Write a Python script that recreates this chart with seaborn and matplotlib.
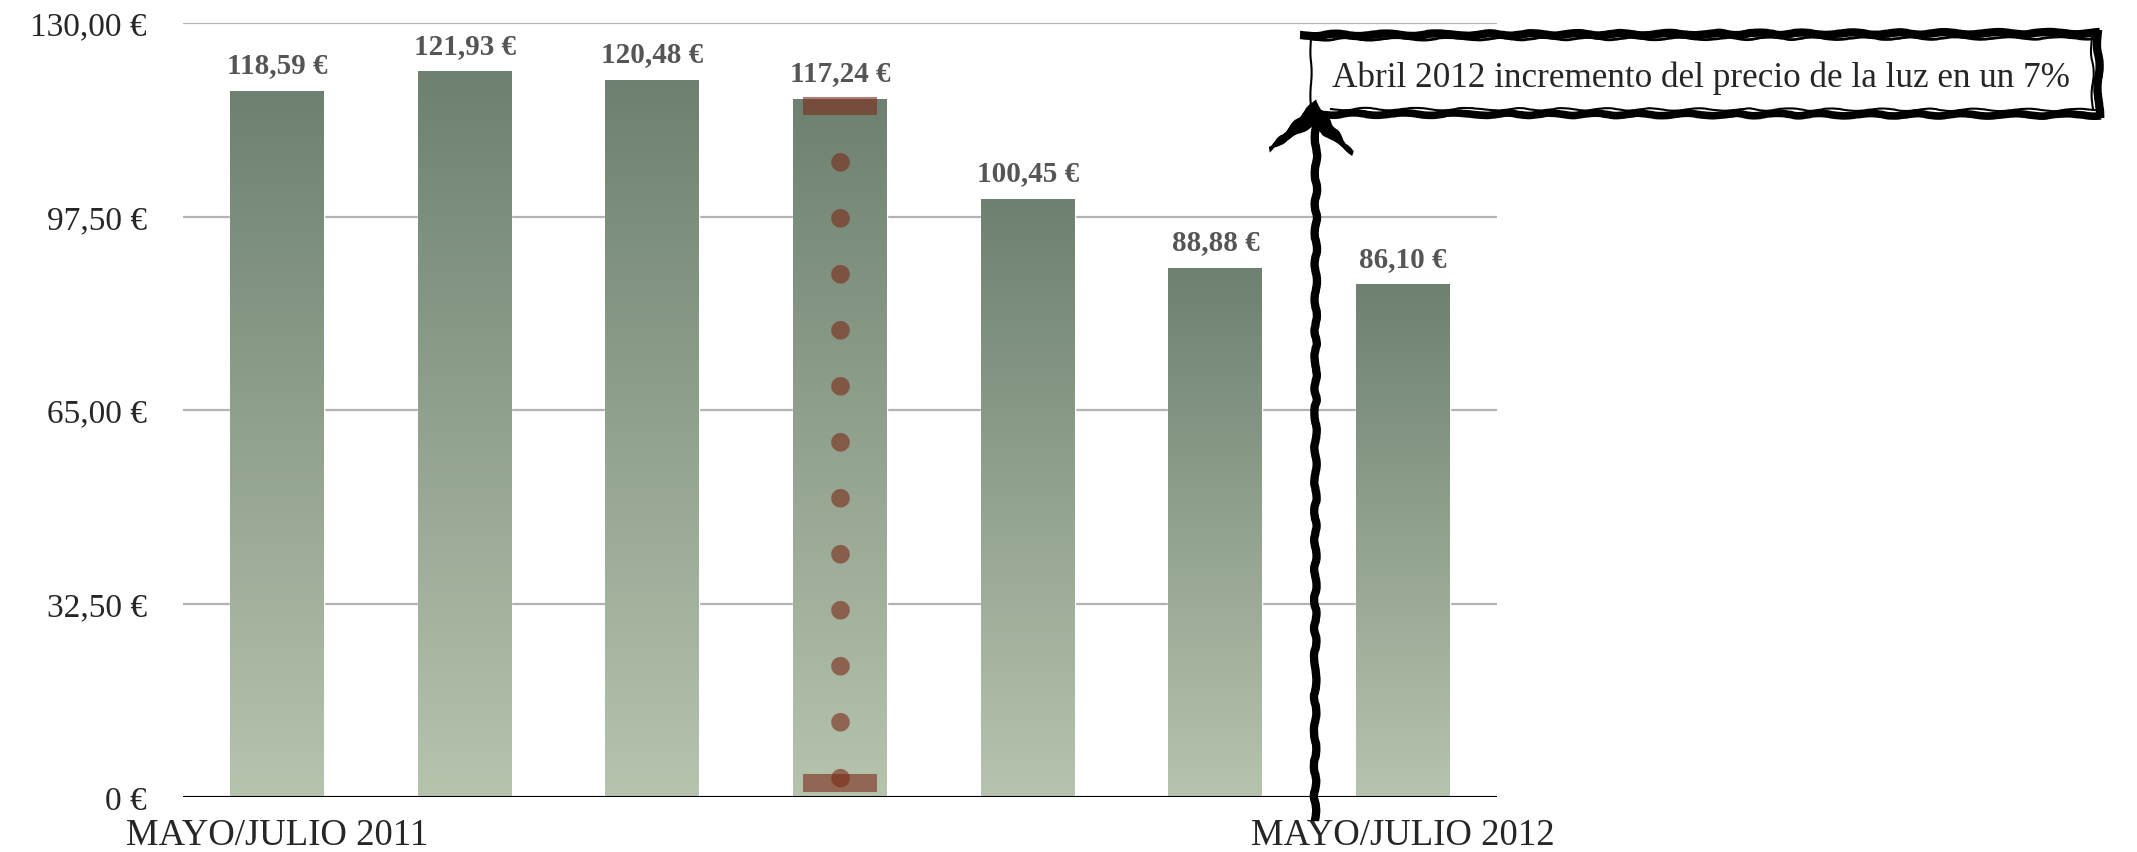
import numpy as np
import pandas as pd
import matplotlib
matplotlib.use("Agg")
import matplotlib.pyplot as plt
import seaborn as sns
from matplotlib.colors import LinearSegmentedColormap
from matplotlib.lines import Line2D
from matplotlib.patches import Polygon

# Datos: facturas bimestrales de la luz
periodos = ["MAYO/JULIO 2011", "JULIO/SEPT 2011", "SEPT/NOV 2011", "NOV 2011/ENE 2012",
            "ENE/MAR 2012", "MAR/MAYO 2012", "MAYO/JULIO 2012"]
importes = [118.59, 121.93, 120.48, 117.24, 100.45, 88.88, 86.10]
etiquetas_x = ["MAYO/JULIO 2011", "", "", "", "", "", "MAYO/JULIO 2012"]
ticks_y = [0, 32.5, 65, 97.5, 130]
etiquetas_y = ["0 €", "32,50 €", "65,00 €", "97,50 €", "130,00 €"]
rango_periodo = 3
rango = [116.1, 2.4]
nota = "Abril 2012 incremento del precio de la luz en un 7%"

sns.set_style("white")
plt.rcParams['font.family'] = ['Liberation Serif', 'DejaVu Serif']

df = pd.DataFrame({"periodo": periodos, "importe": importes})

W, H = 2137, 853
fig = plt.figure(figsize=(W / 100, H / 100), dpi=100)
ax = fig.add_axes([183 / W, 1 - 798 / H, (1497 - 183) / W, (798 - 24) / H])

sns.barplot(data=df, x="periodo", y="importe", color="#8a9c88", width=0.5,
            ax=ax, zorder=2)

# degradado vertical en cada barra
cmap = LinearSegmentedColormap.from_list("verde", ["#b6c4ae", "#6e8170"])
grad = np.linspace(0, 1, 256).reshape(-1, 1)
for p in ax.patches:
    x0, y0 = p.get_x(), p.get_y()
    x1, y1 = x0 + p.get_width(), y0 + p.get_height()
    im = ax.imshow(grad, extent=[x0, x1, y0, y1], origin="lower", cmap=cmap,
                   aspect="auto", zorder=2.5)
    im.set_clip_path(p)

ax.set_xlim(-0.5, 6.5)
ax.set_ylim(0, 130)

# etiquetas de valor
for i, v in enumerate(importes):
    ax.annotate(f"{v:.2f} €".replace(".", ","), (i, v), xytext=(0, 9),
                textcoords="offset points", ha="center", va="bottom",
                fontsize=21, fontweight="bold", color="#555555")

# marcador de rango punteado
rojo = "#7a2a18"
ax.plot([rango_periodo, rango_periodo], rango, color=rojo, alpha=0.6, lw=13.5,
        linestyle=(0.01, (0.001, 40.3 / 13.5)), dash_capstyle="round", zorder=4)
ax.hlines(rango, rango_periodo - 0.195, rango_periodo + 0.195, color=rojo,
          alpha=0.6, lw=13, capstyle="butt", zorder=4)

ax.set_yticks(ticks_y)
ax.set_yticklabels(etiquetas_y, fontsize=24)
ax.set_xticks(range(len(periodos)))
ax.set_xticklabels(etiquetas_x, fontsize=26.5)
ax.tick_params(axis="y", length=0, pad=26)
ax.tick_params(axis="x", length=0, pad=15)
ax.set_xlabel("")
ax.set_ylabel("")
ax.set_axisbelow(True)
ax.yaxis.grid(True, color="#b3b3b3", lw=1.6)
ax.axhline(0, color="black", lw=2.2, zorder=3)
for s in ax.spines.values():
    s.set_visible(False)


def fx(x):
    return x / W


def fy(y):
    return 1 - y / H


def trazo(xs, ys, lw, esc=1.2, largo=60, azar=3):
    ln = Line2D([fx(x) for x in xs], [fy(y) for y in ys], transform=fig.transFigure,
                color="black", lw=lw, solid_capstyle="butt")
    ln.set_sketch_params(esc, largo, azar)
    fig.add_artist(ln)


# recuadro de la nota
trazo([1300, 2100], [36, 34], 6)
trazo([1311, 2096], [40, 39], 2)
trazo([2098, 2099], [31, 119], 6)
trazo([2092, 2093], [38, 112], 1.5)
trazo([1311, 1311], [38, 116], 1.5, esc=0.6)
trazo([1318, 2101], [115, 116], 5.5)
trazo([1330, 2096], [110, 111], 1.5)
fig.text(fx(1332), fy(78), nota, fontsize=25.3, ha="left", va="center")

# flecha
trazo([1315, 1316], [822, 110], 6, esc=1.2, largo=40, azar=3)
cabeza = Polygon([(fx(1315), fy(103)), (fx(1270), fy(150)), (fx(1312), fy(126)),
                  (fx(1352), fy(154))], closed=True, transform=fig.transFigure,
                 facecolor="black", edgecolor="black", lw=2)
cabeza.set_sketch_params(1, 30, 3)
fig.add_artist(cabeza)

fig.savefig("out.png", dpi=100)
